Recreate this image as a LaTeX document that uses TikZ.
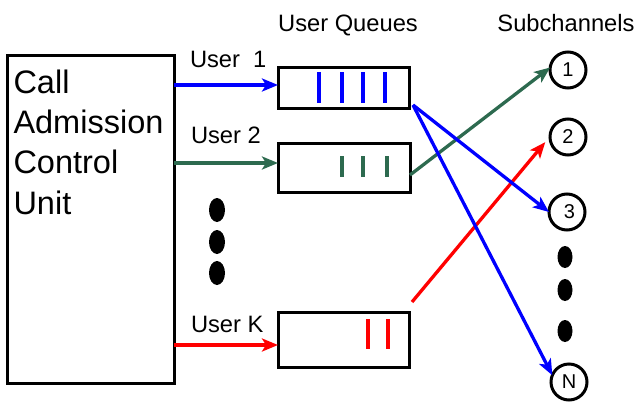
\documentclass[tikz,border=0pt]{standalone}
\usepackage{fontspec}
\setmainfont{Liberation Sans}
\usetikzlibrary{arrows.meta,calc}
\definecolor{qblue}{RGB}{0,0,255}
\definecolor{qgreen}{RGB}{45,106,79}
\definecolor{qred}{RGB}{255,0,0}
\begin{document}
\begin{tikzpicture}[x=1pt,y=-1pt,
  box/.style={draw,line width=3pt,rectangle,outer sep=0pt,inner sep=0pt},
  chan/.style={draw,line width=3pt,circle,minimum size=36pt,inner sep=0pt,outer sep=0pt,font=\fontsize{20}{23}\selectfont},
  lbl/.style={inner sep=0pt,outer sep=0pt,font=\fontsize{23.7}{27}\selectfont},
  big/.style={inner sep=0pt,outer sep=0pt,anchor=base west,font=\fontsize{32.5}{39}\selectfont},
  conn/.style={line width=3.3pt,-{Stealth[length=16pt,width=13pt,inset=4pt]}},
  bar/.style={line width=3.5pt},
  dot/.style={fill=black}]
\useasboundingbox (0,0) rectangle (637,402);

% Call admission control unit
\node[box,minimum width=167pt,minimum height=328pt] (cac) at (90.5,219) {};
\node[big] (t1) at (13.5,93) {Call};
\node[big] (t2) at (13.5,133) {Admission};
\node[big] (t3) at (13.5,173) {Control};
\node[big] (t4) at (13.5,214) {Unit};

% headers
\node[lbl,anchor=base] (hq) at (348,31) {User Queues};
\node[lbl,anchor=base] (hs) at (566,31) {Subchannels};

% queues
\node[box,minimum width=131pt,minimum height=41pt] (q1) at (343.5,87.5) {};
\node[box,minimum width=132pt,minimum height=49pt] (q2) at (344,167.5) {};
\node[box,minimum width=131pt,minimum height=55pt] (qk) at (343.5,339.5) {};

\foreach \x in {319,342,363,385} \draw[bar,qblue] (\x,72) -- (\x,103);
\foreach \x in {342,363,387} \draw[bar,qgreen] (\x,156) -- (\x,177);
\foreach \x in {368,388} \draw[bar,qred] (\x,319) -- (\x,349);

% user labels
\node[lbl,anchor=base west] (u1) at (190,67) {User~~1};
\node[lbl,anchor=base west] (u2) at (191,143) {User 2};
\node[lbl,anchor=base west] (uk) at (191,332) {User K};

% left dots
\fill[dot] (217,210) ellipse [x radius=8pt,y radius=12pt];
\fill[dot] (217,242) ellipse [x radius=8pt,y radius=12pt];
\fill[dot] (217,273) ellipse [x radius=8pt,y radius=12pt];

% subchannels
\node[chan] (c1) at (568,70) {1};
\node[chan] (c2) at (568,137) {2};
\node[chan] (c3) at (567,212) {\hspace{5pt}3};
\node[chan] (cN) at (569,382) {N\hspace{8pt}};

\fill[dot] (565,257) ellipse [x radius=7.5pt,y radius=11pt];
\fill[dot] (565,290) ellipse [x radius=7.5pt,y radius=11pt];
\fill[dot] (565,331) ellipse [x radius=7.5pt,y radius=11pt];

% arrows from CAC to queues
\coordinate (a1) at (0,85);
\coordinate (a2) at (0,163);
\coordinate (ak) at (0,345);
\draw[conn,qblue] (cac.east |- a1) -- (q1.west |- a1);
\draw[conn,qgreen] (cac.east |- a2) -- (q2.west |- a2);
\draw[conn,qred] (cac.east |- ak) -- (qk.west |- ak);

% arrows from queues to subchannels
\draw[conn,qgreen] ([yshift=-7.5pt]q2.east) -- (c1.172);
\draw[conn,qred] ([shift={(3,-10)}]qk.north east) -- ($(c2.190)+(-5,2)$);
\draw[conn,qblue] ([shift={(4,-3)}]q1.south east) -- (c3.west);
\draw[conn,qblue] ([shift={(4,-3)}]q1.south east) -- (cN.158);
\end{tikzpicture}
\end{document}
